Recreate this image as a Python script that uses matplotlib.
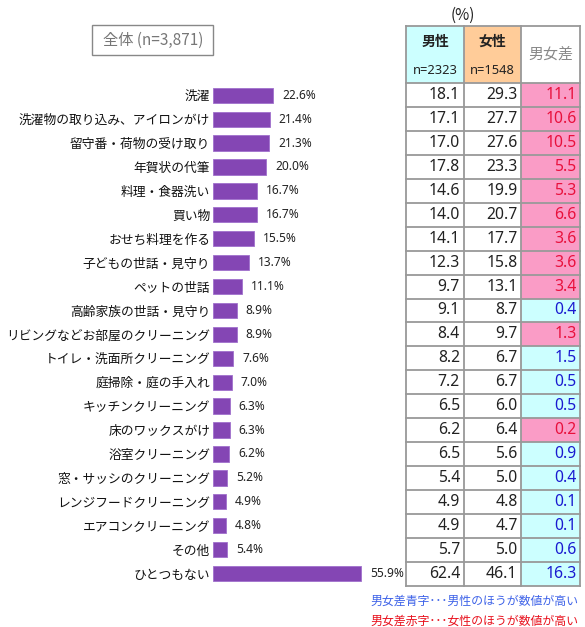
import matplotlib
matplotlib.use("Agg")
import matplotlib.pyplot as plt
from matplotlib.patches import Rectangle

plt.rcParams['font.family'] = ['Noto Sans CJK JP', 'DejaVu Sans']
NUMFONT = ['Noto Sans', 'DejaVu Sans']

categories = ["洗濯", "洗濯物の取り込み、アイロンがけ", "留守番・荷物の受け取り", "年賀状の代筆",
              "料理・食器洗い", "買い物", "おせち料理を作る", "子どもの世話・見守り", "ペットの世話",
              "高齢家族の世話・見守り", "リビングなどお部屋のクリーニング", "トイレ・洗面所クリーニング",
              "庭掃除・庭の手入れ", "キッチンクリーニング", "床のワックスがけ", "浴室クリーニング",
              "窓・サッシのクリーニング", "レンジフードクリーニング", "エアコンクリーニング", "その他", "ひとつもない"]
total = [22.6, 21.4, 21.3, 20.0, 16.7, 16.7, 15.5, 13.7, 11.1, 8.9, 8.9, 7.6, 7.0, 6.3, 6.3, 6.2,
         5.2, 4.9, 4.8, 5.4, 55.9]
male = [18.1, 17.1, 17.0, 17.8, 14.6, 14.0, 14.1, 12.3, 9.7, 9.1, 8.4, 8.2, 7.2, 6.5, 6.2, 6.5,
        5.4, 4.9, 4.9, 5.7, 62.4]
female = [29.3, 27.7, 27.6, 23.3, 19.9, 20.7, 17.7, 15.8, 13.1, 8.7, 9.7, 6.7, 6.7, 6.0, 6.4, 5.6,
          5.0, 4.8, 4.7, 5.0, 46.1]
diff = [11.1, 10.6, 10.5, 5.5, 5.3, 6.6, 3.6, 3.6, 3.4, 0.4, 1.3, 1.5, 0.5, 0.5, 0.2, 0.9,
        0.4, 0.1, 0.1, 0.6, 16.3]
col_headers = ["男性", "女性", "男女差"]
col_n = ["n=2323", "n=1548"]
total_label = "全体 (n=3,871)"
note_blue = "男女差青字･･･男性のほうが数値が高い"
note_red = "男女差赤字･･･女性のほうが数値が高い"

W, H = 585, 627
fig = plt.figure(figsize=(W / 100, H / 100), dpi=100)

def ax_rect(x0, y0, x1, y1):
    return [x0 / W, 1 - y1 / H, (x1 - x0) / W, (y1 - y0) / H]

n = len(categories)
top_px, bot_px = 83.3, 585.5
row_px = (bot_px - top_px) / n
px_per_pct = 2.65

# Bars
bar_color = "#8446b4"
ax = fig.add_axes(ax_rect(213, top_px, 406, bot_px))
ypos = [i + 0.5 for i in range(n)]
ax.barh(ypos, total, height=0.64, color=bar_color, edgecolor="#a070cc", linewidth=0.6)
ax.set_xlim(0, (406 - 213) / px_per_pct)
ax.set_ylim(n, 0)
ax.set_yticks(ypos)
ax.set_yticklabels(categories, fontsize=9.2, color="#111111")
ax.tick_params(axis='y', length=0, pad=2)
ax.set_xticks([])
for s in ax.spines.values():
    s.set_visible(False)
for y, v in zip(ypos, total):
    ax.text(v + 9 / px_per_pct, y, f"{v:.1f}%", va="center", ha="left", fontsize=8.6,
            color="#222222", family=NUMFONT)

# Total box
fig.patches.append(Rectangle((92 / W, 1 - 55 / H), (213 - 92) / W, 30 / H, transform=fig.transFigure,
                             fc="white", ec="#888888", lw=1.0))
fig.text(153 / W, 1 - 40.5 / H, total_label, ha="center", va="center", fontsize=11, color="#777777")

# Table
hdr_rows = (top_px - 26) / row_px
tx = fig.add_axes(ax_rect(406, 26, 580, bot_px))
tx.set_xlim(0, 174)
tx.set_ylim(n, -hdr_rows)
tx.axis("off")
col_edges = [0, 58, 115, 174]
hdr_colors = ["#ccffff", "#ffcc99", "white"]
for j in range(3):
    tx.add_patch(Rectangle((col_edges[j], -hdr_rows), col_edges[j + 1] - col_edges[j], hdr_rows,
                           fc=hdr_colors[j], ec="none"))
pink = "#fa9cc6"
cyan = "#ccffff"
red_txt = "#e8103c"
blue_txt = "#1a1ad0"
for i in range(n):
    female_high = female[i] > male[i]
    tx.add_patch(Rectangle((col_edges[2], i), col_edges[3] - col_edges[2], 1,
                           fc=pink if female_high else cyan, ec="none"))
    tx.text(col_edges[1] - 4, i + 0.5, f"{male[i]:.1f}", ha="right", va="center", fontsize=11.3,
            color="#222222", family=NUMFONT)
    tx.text(col_edges[2] - 3.5, i + 0.5, f"{female[i]:.1f}", ha="right", va="center", fontsize=11.3,
            color="#222222", family=NUMFONT)
    tx.text(col_edges[3] - 3.5, i + 0.5, f"{diff[i]:.1f}", ha="right", va="center", fontsize=11.3,
            color=red_txt if female_high else blue_txt, family=NUMFONT)
# Header text
for j in range(2):
    cx = (col_edges[j] + col_edges[j + 1]) / 2
    tx.text(cx, -hdr_rows + (41.7 - 26) / row_px, col_headers[j], ha="center", va="center",
            fontsize=10, fontweight="bold", color="#222222")
    tx.text(cx, -hdr_rows + (70.7 - 26) / row_px, col_n[j], ha="center", va="center",
            fontsize=9.3, color="#222222", family=NUMFONT)
tx.text((col_edges[2] + col_edges[3]) / 2, -hdr_rows / 2, col_headers[2], ha="center", va="center",
        fontsize=10.8, color="#888888")
# Grid lines
gc = "#999999"
for xe in col_edges:
    tx.plot([xe, xe], [-hdr_rows, n], color=gc, lw=1.3, solid_capstyle="projecting")
tx.plot([0, 174], [-hdr_rows, -hdr_rows], color=gc, lw=1.3)
for i in range(n + 1):
    tx.plot([0, 174], [i, i], color=gc, lw=1.3)
for a in tx.lines:
    a.set_clip_on(False)

fig.text(463 / W, 1 - 15 / H, "(%)", ha="center", va="center", fontsize=11, color="#222222")
fig.text(578 / W, 1 - 601 / H, note_blue, ha="right", va="center", fontsize=8.6, color="#3d62e8")
fig.text(578 / W, 1 - 621 / H, note_red, ha="right", va="center", fontsize=8.6, color="#e8101c")

fig.savefig("out.png", dpi=100, facecolor="white")
